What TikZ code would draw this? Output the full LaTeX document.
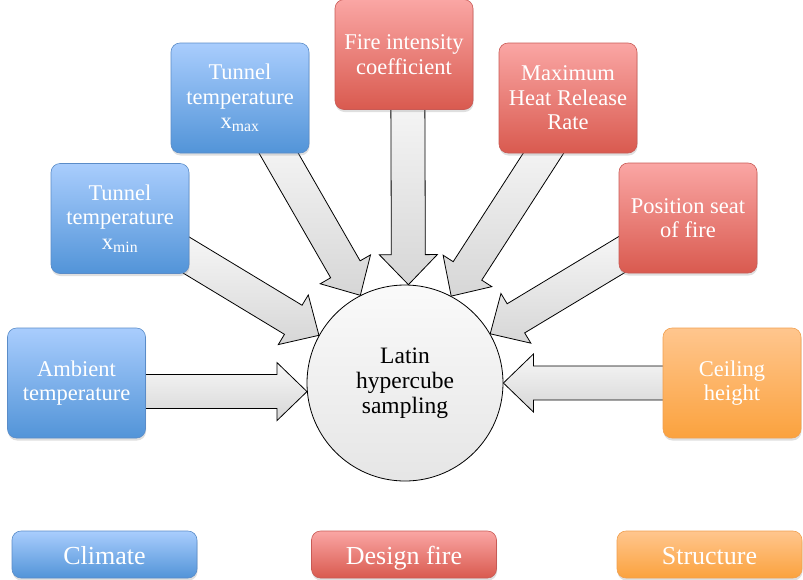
\documentclass[tikz,border=0pt]{standalone}
\usepackage{fontspec}
\setmainfont{Liberation Serif}
\usetikzlibrary{calc,shadows,backgrounds}
\definecolor{climtop}{HTML}{A9CDFD}
\definecolor{climbot}{HTML}{5294D8}
\definecolor{climline}{HTML}{5A8CC8}
\definecolor{firetop}{HTML}{FAA6A4}
\definecolor{firebot}{HTML}{D95A4F}
\definecolor{fireline}{HTML}{C85A55}
\definecolor{structtop}{HTML}{FFC68E}
\definecolor{structbot}{HTML}{FBA23E}
\definecolor{structline}{HTML}{F0A050}
\tikzset{
	box/.style={rounded corners=9pt, align=center, text=white, line width=0.6pt, inner sep=1pt,
		drop shadow={opacity=0.25,shadow xshift=0.5pt,shadow yshift=-2.5pt}},
	param/.style={box, minimum width=138pt, minimum height=110pt, font=\fontsize{22.5}{24.5}\selectfont},
	legendbox/.style={box, minimum width=185pt, minimum height=47pt, text height=20pt, text depth=0pt,
		font=\fontsize{26}{30}\selectfont},
	climate/.style={draw=climline, top color=climtop, bottom color=climbot},
	fire/.style={draw=fireline, top color=firetop, bottom color=firebot},
	struct/.style={draw=structline, top color=structtop, bottom color=structbot},
	hub/.style={circle, draw=black, line width=0.8pt, minimum size=196pt, inner sep=0pt, align=center,
		top color=gray!4, bottom color=gray!20, font=\fontsize{23.5}{25}\selectfont},
	feed/.style={draw=black, line width=0.8pt, top color=gray!6, bottom color=gray!32},
}
\newcommand\feedarrow[2]{%
	\coordinate (sb) at ($(#1)!-20pt!(#2)$);
	\coordinate (hb) at ($(#2)!30pt!(#1)$);
	\draw[feed] ($(sb)!17pt!90:(#2)$) -- ($(hb)!17pt!90:(#2)$) -- ($(hb)!29pt!90:(#2)$) -- (#2)
		-- ($(hb)!29pt!-90:(#2)$) -- ($(hb)!17pt!-90:(#2)$) -- ($(sb)!17pt!-90:(#2)$) -- cycle;
}
\begin{document}
\begin{tikzpicture}[x=1pt,y=-1pt]
	\useasboundingbox (0,0) rectangle (803,579);
	\node[hub] (lhs) at (405,383) {Latin\\hypercube\\sampling};
	\node[param,climate] (amb) at (76.5,383) {Ambient\\temperature};
	\node[param,climate] (tmin) at (120,218.5) {Tunnel\\temperature\\x\textsubscript{min}};
	\node[param,climate] (tmax) at (240,98) {Tunnel\\temperature\\x\textsubscript{max}};
	\node[param,fire] (fic) at (404,54.5) {Fire intensity\\coefficient};
	\node[param,fire] (mhr) at (568,98) {Maximum\\Heat Release\\Rate};
	\node[param,fire] (seat) at (688,218) {Position seat\\of fire};
	\node[param,struct] (ceil) at (732,383) {Ceiling\\height};
	\node[legendbox,climate] (lclim) at (104.5,554.5) {Climate};
	\node[legendbox,fire] (lfire) at (404,554.5) {Design fire};
	\node[legendbox,struct] (lstruct) at (709.5,554.5) {Structure};
	\begin{pgfonlayer}{background}
		\feedarrow{amb.-7}{lhs.185}
		\feedarrow{tmin.-29}{lhs.151}
		\feedarrow{tmax.-55}{lhs.117}
		\feedarrow{fic.-86}{lhs.88}
		\feedarrow{mhr.-114}{lhs.62}
		\feedarrow{seat.209}{lhs.30}
		\feedarrow{ceil.west}{lhs.0}
	\end{pgfonlayer}
\end{tikzpicture}
\end{document}
